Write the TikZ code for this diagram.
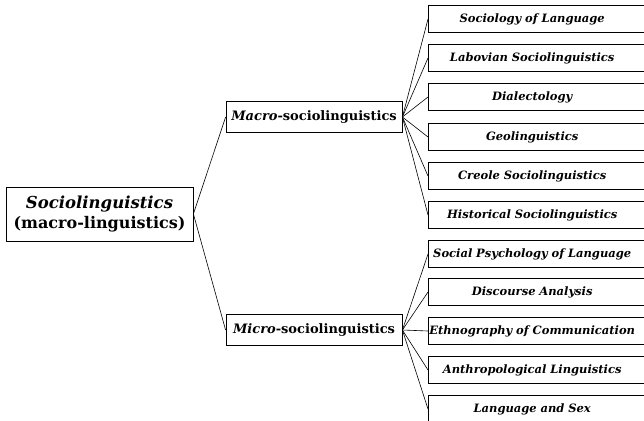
\documentclass[tikz,border=0pt]{standalone}
\usepackage{fontspec}
\setmainfont{DejaVu Serif}
\begin{document}
\begin{tikzpicture}[x=1pt,y=-1pt,
  leaf/.style={minimum height=27pt, text width=208pt, align=center, inner sep=0pt,
    anchor=west, font=\fontsize{11.5}{13}\selectfont\bfseries\itshape},
  mid/.style={draw, line width=0.8pt, minimum height=31pt, minimum width=176pt, inner sep=0pt,
    font=\fontsize{13}{15}\selectfont\bfseries},
  root/.style={draw, line width=0.8pt, minimum height=54pt, minimum width=187pt, inner sep=0pt,
    align=center, font=\bfseries},
  box/.style={line width=0.8pt},
  link/.style={line width=0.6pt}]
\useasboundingbox (0,0) rectangle (644,420);
\clip (0,0) rectangle (644,420);
\node[root] (soc) at (99.5,214) {{\fontsize{16.5}{18}\selectfont\itshape Sociolinguistics}\\[3pt]{\fontsize{16}{17}\selectfont (macro-linguistics)}};
\node[mid] (mac) at (314,117) {\itshape Macro\upshape-sociolinguistics};
\node[mid] (mic) at (314,330) {\itshape Micro\upshape-sociolinguistics};
\node[leaf] (l1) at (428,19) {Sociology of Language};
\node[leaf] (l2) at (428,58) {Labovian Sociolinguistics};
\node[leaf] (l3) at (428,97) {Dialectology};
\node[leaf] (l4) at (428,137) {Geolinguistics};
\node[leaf] (l5) at (428,176) {Creole Sociolinguistics};
\node[leaf] (l6) at (428,215) {Historical Sociolinguistics};
\node[leaf] (l7) at (428,254) {Social Psychology of Language};
\node[leaf] (l8) at (428,292) {Discourse Analysis};
\node[leaf] (l9) at (428,331) {Ethnography of Communication};
\node[leaf] (l10) at (428,370) {Anthropological Linguistics};
\node[leaf] (l11) at (428,409) {Language and Sex};
\foreach \i in {1,...,11} \draw[box] (l\i.north west) rectangle ([xshift=230pt]l\i.south west);
\draw[link] (soc.east) -- (mac.west);
\draw[link] (soc.east) -- (mic.west);
\foreach \i in {1,...,6} \draw[link] (mac.east) -- (l\i.west);
\foreach \i in {7,...,11} \draw[link] (mic.east) -- (l\i.west);
\end{tikzpicture}
\end{document}
